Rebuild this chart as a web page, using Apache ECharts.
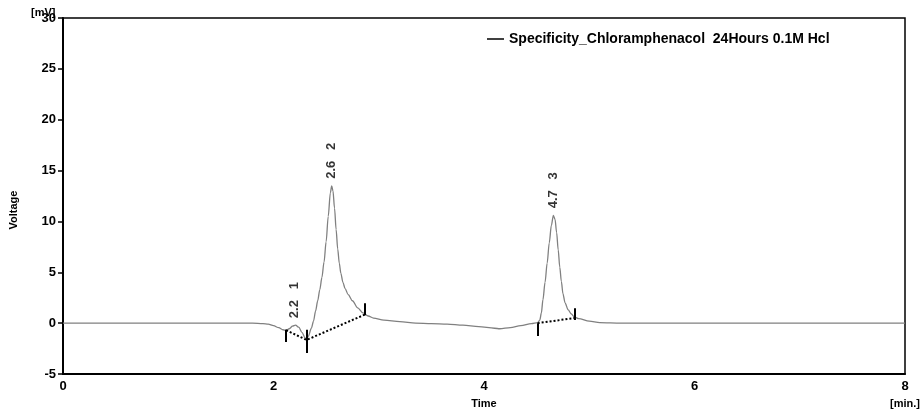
<!DOCTYPE html>
<html>
<head>
<meta charset="utf-8">
<script src="https://cdn.jsdelivr.net/npm/echarts@6/dist/echarts.min.js"></script>
<style>html,body{margin:0;padding:0;background:#fff}#c{width:922px;height:414px}</style>
</head>
<body>
<div id="c"></div>
<script>
const seriesName = 'Specificity_Chloramphenacol  24Hours 0.1M Hcl';
const times = [0,0.5,1.0,1.5,1.8,1.9,1.95,2.0,2.05,2.09,2.12,2.15,2.18,2.21,2.24,2.27,2.30,2.315,2.33,2.36,2.38,2.40,2.42,2.44,2.46,2.48,2.50,2.52,2.54,2.553,2.565,2.58,2.595,2.61,2.625,2.64,2.66,2.68,2.71,2.75,2.80,2.85,2.90,2.95,3.05,3.2,3.35,3.5,3.65,3.8,3.95,4.1,4.15,4.25,4.35,4.45,4.51,4.53,4.545,4.56,4.58,4.60,4.62,4.64,4.659,4.675,4.69,4.705,4.72,4.735,4.75,4.77,4.80,4.83,4.86,4.90,5.0,5.1,5.3,5.6,6.0,6.5,7.0,7.5,8.0];
const volts = [0,0,0,0,0,-0.05,-0.1,-0.25,-0.45,-0.65,-0.7,-0.55,-0.3,-0.2,-0.4,-0.9,-1.45,-1.65,-1.3,-0.5,0.2,1.2,2.2,3.3,4.5,6.0,8.0,10.5,12.8,13.5,13.0,11.3,9.2,7.3,5.9,4.9,4.0,3.4,2.8,2.2,1.5,1.0,0.7,0.5,0.3,0.15,0.0,-0.05,-0.1,-0.2,-0.35,-0.5,-0.55,-0.45,-0.25,-0.05,0.05,0.3,1.0,2.3,4.0,5.9,7.9,9.6,10.6,10.2,8.9,7.2,5.5,4.1,2.9,2.0,1.3,0.9,0.6,0.45,0.2,0.05,0,0,0,0,0,0,0];
const peakTimes = [2.20, 2.553, 4.659];
const peakVolts = [-0.2, 13.5, 10.6];
const peakLabels = ['2.2   1', '2.6   2', '4.7   3'];
const markerTimes = [2.12, 2.315, 2.87, 4.51, 4.86];
const markerLo = [-1.85, -2.93, 0.78, -1.27, 0.3];
const markerHi = [-0.65, -0.65, 1.96, 0.0, 1.47];
const baseA = [[2.12,-0.7],[2.315,-1.65],[2.87,0.85]];
const baseB = [[4.51,0.0],[4.86,0.5]];
const yTicks = [-5,0,5,10,15,20,25,30];
const xTicks = [0,2,4,6,8];

const font = 'Liberation Sans, Arial, sans-serif';
const chart = echarts.init(document.getElementById('c'));
const trace = times.map((t,i)=>[t, volts[i]]);
const peaks = peakTimes.map((t,i)=>({value:[t, peakVolts[i]], label:{formatter: peakLabels[i]}}));
const markers = markerTimes.map((t,i)=>[{coord:[t, markerLo[i]]},{coord:[t, markerHi[i]]}]);

chart.setOption({
  animation: false,
  grid: {left: 63, right: 17, top: 18, bottom: 38, show: true, borderColor: '#000', borderWidth: 1.5},
  legend: {
    data: [{name: seriesName, icon: 'rect', itemStyle: {color: '#000'}}],
    left: 482, top: 27, itemWidth: 17, itemHeight: 1.5, itemGap: 8,
    textStyle: {fontFamily: font, fontWeight: 'bold', fontSize: 14, color: '#000'}
  },
  xAxis: {
    type: 'value', min: 0, max: 8, interval: 2,
    axisLine: {show: true, onZero: false, lineStyle: {color: '#000', width: 2}},
    axisTick: {show: false},
    splitLine: {show: false},
    axisLabel: {color: '#000', fontFamily: font, fontWeight: 'bold', fontSize: 13, margin: 6,
      formatter: v => xTicks.includes(v) ? String(v) : ''},
    name: 'Time', nameLocation: 'middle', nameGap: 24,
    nameTextStyle: {color: '#000', fontFamily: font, fontWeight: 'bold', fontSize: 11}
  },
  yAxis: {
    type: 'value', min: -5, max: 30, interval: 5,
    axisLine: {show: true, onZero: false, lineStyle: {color: '#000', width: 2}},
    axisTick: {show: true, length: 5, lineStyle: {color: '#000', width: 1.5}},
    splitLine: {show: false},
    axisLabel: {color: '#000', fontFamily: font, fontWeight: 'bold', fontSize: 13, margin: 7,
      formatter: v => yTicks.includes(v) ? String(v) : ''}
  },
  graphic: [
    {type: 'text', left: 31, top: 7, style: {text: '[mV]', fill: '#000', font: 'bold 11px Liberation Sans'}},
    {type: 'text', x: 14, y: 210, rotation: Math.PI/2, style: {text: 'Voltage', fill: '#000', font: 'bold 11px Liberation Sans', align: 'center', verticalAlign: 'middle'}},
    {type: 'text', x: 905, y: 398, style: {text: '[min.]', fill: '#000', font: 'bold 11px Liberation Sans', align: 'center', verticalAlign: 'top'}}
  ],
  series: [
    {
      name: seriesName, type: 'line', data: trace, showSymbol: false, smooth: 0.3, smoothMonotone: 'x',
      lineStyle: {color: '#808080', width: 1.3}, itemStyle: {color: '#808080'},
      markLine: {silent: true, symbol: 'none', label: {show: false},
        lineStyle: {color: '#000', width: 2, type: 'solid'}, data: markers}
    },
    {name: 'baseA', type: 'line', data: baseA, showSymbol: false,
      lineStyle: {color: '#000', width: 2, type: [2, 2]}},
    {name: 'baseB', type: 'line', data: baseB, showSymbol: false,
      lineStyle: {color: '#000', width: 2, type: [2, 2]}},
    {name: 'peaks', type: 'scatter', data: peaks, symbolSize: 0,
      label: {show: true, position: 'top', distance: 7, rotate: 90, align: 'left', verticalAlign: 'middle',
        color: '#000', fontFamily: font, fontWeight: 'bold', fontSize: 13}}
  ]
});
</script>
</body>
</html>
